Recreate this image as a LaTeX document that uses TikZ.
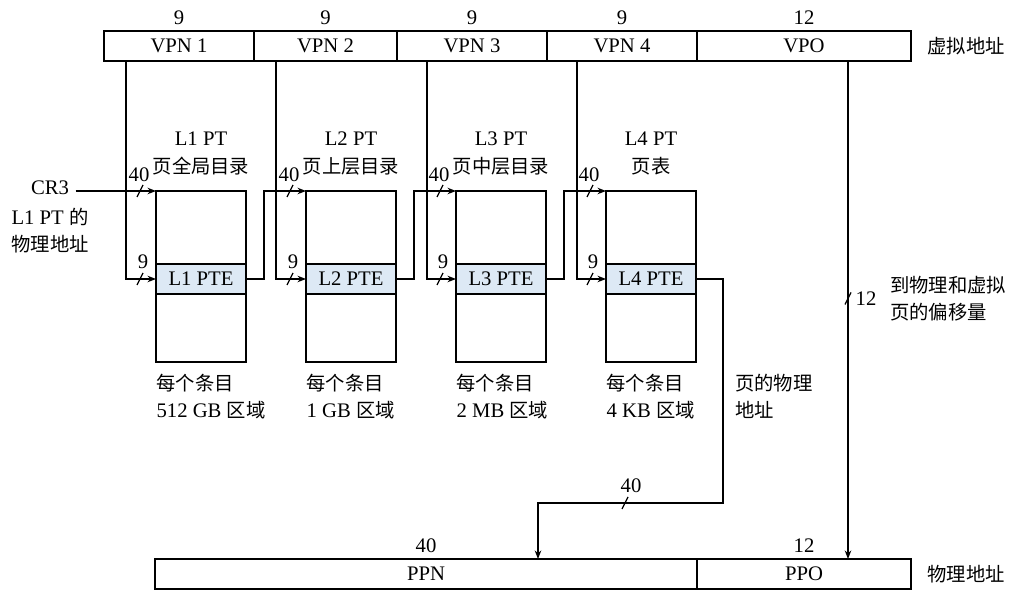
\documentclass[tikz,border=0pt]{standalone}
\usepackage{fontspec}
\setmainfont{Liberation Serif}[Scale=1.07]
\newfontfamily\cjk{Noto Sans CJK SC}
\usepackage{xcolor}
\usepackage{tikz}
\usetikzlibrary{arrows.meta,positioning,calc}
\newcommand{\zh}[1]{{\cjk #1}}
\definecolor{ptefill}{RGB}{221,233,245}

\begin{document}
\begin{tikzpicture}[
    font=\fontsize{11}{15.5}\selectfont,
    field/.style={draw, line width=1pt, minimum height=0.6cm, inner sep=0pt, outer sep=0pt},
    ptbox/.style={draw, line width=1pt, minimum width=1.8cm, minimum height=3.42cm, outer sep=0pt},
    pte/.style={draw, line width=1pt, fill=ptefill, minimum width=1.8cm, minimum height=0.6cm, outer sep=0pt},
    ptname/.style={align=center},
    desc/.style={align=left, anchor=west},
    num/.style={inner sep=1pt},
    arr/.style={-{Stealth[length=1.7mm, width=1.3mm]}, line width=0.7pt},
    bus/.pic={\draw[line width=0.7pt] (-0.06,-0.12) -- (0.06,0.12);},
]
    \useasboundingbox (0,0) rectangle (20.22,11.84);

    % Virtual address
    \node[field, minimum width=3cm, anchor=north west] (vpn1) at (2.08, 11.22) {VPN 1};
    \node[field, minimum width=2.86cm, right=0pt of vpn1] (vpn2) {VPN 2};
    \node[field, minimum width=3cm, right=0pt of vpn2] (vpn3) {VPN 3};
    \node[field, minimum width=3cm, right=0pt of vpn3] (vpn4) {VPN 4};
    \node[field, minimum width=4.28cm, right=0pt of vpn4] (vpo) {VPO};
    \node[above=0pt of vpn1] (wv1) {9};
    \node[above=0pt of vpn2] (wv2) {9};
    \node[above=0pt of vpn3] (wv3) {9};
    \node[above=0pt of vpn4] (wv4) {9};
    \node[above=0pt of vpo] (wvo) {12};
    \node[right=0.2cm of vpo] (vaddr) {\zh{虚拟地址}};

    % CR3
    \node (cr3) at (1.0, 8.08) {CR3};
    \node[align=center, below=0pt of cr3] (cr3note) {L1 PT \zh{的}\\\zh{物理地址}};

    % Page tables
    \node[ptbox] (pt1) at (4.02, 6.31) {};
    \node[ptbox] (pt2) at (7.02, 6.31) {};
    \node[ptbox] (pt3) at (10.02, 6.31) {};
    \node[ptbox] (pt4) at (13.02, 6.31) {};
    \node[pte] (pte1) at (4.02, 6.26) {L1 PTE};
    \node[pte] (pte2) at (7.02, 6.26) {L2 PTE};
    \node[pte] (pte3) at (10.02, 6.26) {L3 PTE};
    \node[pte] (pte4) at (13.02, 6.26) {L4 PTE};

    \node[ptname] (n1) at (4.02, 8.77) {L1 PT\\\zh{页全局目录}};
    \node[ptname] (n2) at (7.02, 8.77) {L2 PT\\\zh{页上层目录}};
    \node[ptname] (n3) at (10.02, 8.77) {L3 PT\\\zh{页中层目录}};
    \node[ptname] (n4) at (13.02, 8.77) {L4 PT\\\zh{页表}};

    \node[desc] (d1) at (3.0, 3.91) {\zh{每个条目}\\512 GB \zh{区域}};
    \node[desc] (d2) at (6.0, 3.91) {\zh{每个条目}\\1 GB \zh{区域}};
    \node[desc] (d3) at (9.0, 3.91) {\zh{每个条目}\\2 MB \zh{区域}};
    \node[desc] (d4) at (12.0, 3.91) {\zh{每个条目}\\4 KB \zh{区域}};

    % Physical address
    \node[field, minimum width=10.84cm, anchor=south west] (ppn) at (3.10, 0.06) {PPN};
    \node[field, minimum width=4.28cm, right=0pt of ppn] (ppo) {PPO};
    \node[above=0pt of ppn] (wpn) {40};
    \node[above=0pt of ppo] (wpo) {12};
    \node[right=0.2cm of ppo] (paddr) {\zh{物理地址}};

    \node[desc] (pagaddr) at (14.57, 3.91) {\zh{页的物理}\\\zh{地址}};
    \node[desc] (offtxt) at (17.67, 5.87) {\zh{到物理和虚拟}\\\zh{页的偏移量}};

    % VPN index lines
    \draw[arr] ($(vpn1.south west)+(0.44,0)$) |- (pte1.west);
    \draw[arr] ($(vpn2.south west)+(0.44,0)$) |- (pte2.west);
    \draw[arr] ($(vpn3.south west)+(0.6,0)$) |- (pte3.west);
    \draw[arr] ($(vpn4.south west)+(0.6,0)$) |- (pte4.west);

    % Base address lines
    \draw[arr] (cr3.east |- pt1.north west) -- (pt1.north west);
    \draw[arr] (pte1.east) -- ++(0.36,0) |- (pt2.north west);
    \draw[arr] (pte2.east) -- ++(0.36,0) |- (pt3.north west);
    \draw[arr] (pte3.east) -- ++(0.36,0) |- (pt4.north west);

    % To the physical address
    \coordinate (ppnin) at ($(ppn.north west)+(7.66,0)$);
    \coordinate (vpoout) at ($(vpo.south west)+(3.02,0)$);
    \draw[arr] (pte4.east) -- ++(0.54,0) |- ($(ppnin)+(0,1.12)$) -- (ppnin);
    \draw[arr] (vpoout) -- (vpoout |- ppo.north);

    % Bus widths
    \pic at ($(pt1.north west)+(-0.32,0)$) {bus};
    \pic at ($(pt2.north west)+(-0.32,0)$) {bus};
    \pic at ($(pt3.north west)+(-0.32,0)$) {bus};
    \pic at ($(pt4.north west)+(-0.32,0)$) {bus};
    \pic at ($(pte1.west)+(-0.32,0)$) {bus};
    \pic at ($(pte2.west)+(-0.32,0)$) {bus};
    \pic at ($(pte3.west)+(-0.32,0)$) {bus};
    \pic at ($(pte4.west)+(-0.32,0)$) {bus};
    \node[num] (wb1) at ($(pt1.north west)+(-0.34,0.32)$) {40};
    \node[num] (wb2) at ($(pt2.north west)+(-0.34,0.32)$) {40};
    \node[num] (wb3) at ($(pt3.north west)+(-0.34,0.32)$) {40};
    \node[num] (wb4) at ($(pt4.north west)+(-0.34,0.32)$) {40};
    \node[num] (wi1) at ($(pte1.west)+(-0.26,0.34)$) {9};
    \node[num] (wi2) at ($(pte2.west)+(-0.26,0.34)$) {9};
    \node[num] (wi3) at ($(pte3.west)+(-0.26,0.34)$) {9};
    \node[num] (wi4) at ($(pte4.west)+(-0.26,0.34)$) {9};
    \pic at ($(ppnin)+(1.74,1.12)$) {bus};
    \node[num] (wpp) at ($(ppnin)+(1.86,1.46)$) {40};
    \pic at (vpoout |- offtxt.west) {bus};
    \node[num] (wof) at ($(vpoout |- offtxt.west)+(0.36,0)$) {12};
\end{tikzpicture}
\end{document}
